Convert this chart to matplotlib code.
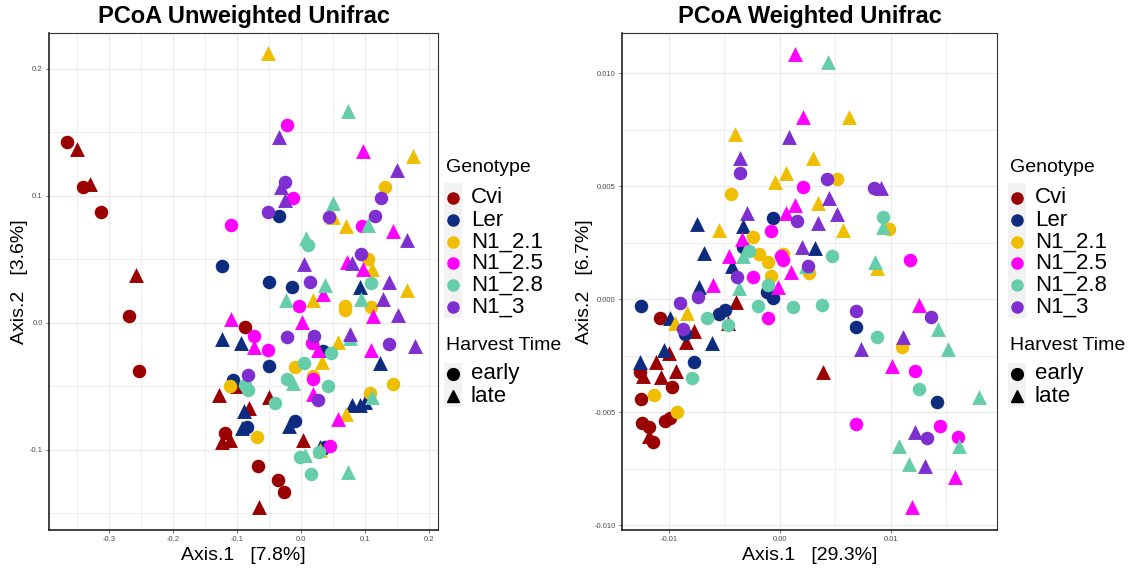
import numpy as np
import matplotlib
matplotlib.use("Agg")
import matplotlib.pyplot as plt
from matplotlib.lines import Line2D
from matplotlib.patches import Rectangle
from matplotlib.ticker import MultipleLocator, FixedLocator

plt.rcParams["font.family"] = ["Liberation Sans", "DejaVu Sans"]
plt.rcParams["axes.unicode_minus"] = False

genotypes = ["Cvi", "Ler", "N1_2.1", "N1_2.5", "N1_2.8", "N1_3"]
colors = ["#9B0000", "#0D2C80", "#F0BE00", "#FF00FF", "#66CDAA", "#7F2FD0"]
harvest = ["early", "late"]

# ---- unweighted unifrac: (Axis.1, Axis.2) per genotype, early = circles, late = triangles
unw_early = {
    "Cvi": [(-0.366, 0.1425), (-0.341, 0.107), (-0.3125, 0.087), (-0.269, 0.005), (-0.253, -0.038),
            (-0.0875, -0.003), (-0.119, -0.087), (-0.067, -0.113), (-0.036, -0.124), (-0.027, -0.133)],
    "Ler": [(-0.034, 0.084), (-0.123, 0.045), (-0.050, 0.032), (-0.014, 0.028), (-0.106, -0.045),
            (-0.050, -0.034), (-0.009, -0.077), (-0.084, -0.082), (0.034, -0.022), (0.0375, -0.098)],
    "N1_2.1": [(0.131, 0.107), (0.105, 0.050), (0.069, 0.013), (0.069, 0.010), (0.109, 0.0126),
               (-0.009, -0.035), (0.019, -0.042), (-0.111, -0.050), (0.108, -0.055), (0.144, -0.048),
               (-0.069, -0.090)],
    "N1_2.5": [(-0.022, 0.156), (-0.0125, 0.098), (-0.109, 0.077), (0.095, 0.076), (-0.003, 0.013),
               (-0.073, -0.010), (-0.052, -0.021), (0.017, -0.016), (0.019, -0.0445), (0.045, -0.097)],
    "N1_2.8": [(0.011, 0.061), (0.109, 0.031), (0.047, -0.024), (0.005, -0.032), (-0.022, -0.0445),
               (-0.0875, -0.049), (-0.083, -0.053), (0.042, -0.050), (-0.041, -0.063), (-0.0016, -0.1055),
               (0.028, -0.102), (0.016, -0.119)],
    "N1_3": [(-0.025, 0.111), (-0.052, 0.087), (0.044, 0.083), (0.125, 0.098), (0.116, 0.084),
             (0.094, 0.054), (0.014, 0.032), (-0.022, -0.011), (0.020, -0.010), (0.1375, -0.0165),
             (-0.083, -0.041), (0.027, -0.061)],
}
unw_late = {
    "Cvi": [(-0.350, 0.137), (-0.330, 0.109), (-0.258, 0.038), (-0.128, -0.057), (-0.100, -0.050),
            (-0.050, -0.058), (-0.081, -0.067), (-0.123, -0.094), (-0.111, -0.092), (0.003, -0.092),
            (-0.066, -0.145)],
    "Ler": [(-0.123, -0.0126), (-0.094, -0.016), (0.092, 0.028), (0.123, -0.032), (0.080, -0.065),
            (0.092, -0.065), (0.100, -0.062), (-0.089, -0.069), (-0.092, -0.083), (-0.019, -0.081),
            (0.030, -0.098)],
    "N1_2.1": [(-0.052, 0.212), (0.175, 0.1315), (0.050, 0.083), (0.070, 0.076), (0.111, 0.042),
               (0.166, 0.026), (0.019, 0.018), (0.058, -0.015), (0.033, -0.031), (0.070, -0.072),
               (0.030, -0.100)],
    "N1_2.5": [(0.097, 0.135), (0.144, 0.072), (0.072, 0.048), (0.097, 0.0425), (0.034, 0.023),
               (-0.109, 0.003), (0.0016, 0.001), (-0.073, -0.019), (0.027, -0.021), (0.019, -0.056),
               (0.109, -0.021), (0.058, -0.076), (0.1125, 0.005)],
    "N1_2.8": [(0.073, 0.167), (0.050, 0.0945), (0.008, 0.067), (0.105, 0.077), (0.0375, 0.030),
               (-0.023, 0.018), (0.094, 0.019), (0.077, -0.012), (-0.0125, -0.047), (0.111, -0.058),
               (0.006, -0.104), (0.073, -0.117)],
    "N1_3": [(-0.034, 0.146), (-0.031, 0.107), (-0.025, 0.097), (0.150, 0.120), (0.166, 0.065),
             (0.080, 0.047), (0.005, 0.046), (0.1375, 0.032), (0.128, 0.019), (0.152, 0.006),
             (0.077, -0.009), (0.178, -0.018)],
}

# ---- weighted unifrac, values in units of 1e-3
w_early = {
    "Cvi": [(-10.81, -0.84), (-12.61, -3.23), (-9.73, -3.89), (-12.52, -4.42), (-12.43, -5.49),
            (-11.80, -5.66), (-11.44, -6.33), (-10.36, -5.40), (-9.91, -5.27)],
    "Ler": [(-0.63, 3.58), (-3.33, 2.32), (-1.17, 0.31), (-0.63, 0.04), (-12.52, -0.31), (-5.50, -0.66),
            (-4.95, -0.49), (-8.56, -1.55), (-7.75, -2.79), (6.85, -1.24), (14.14, -4.56)],
    "N1_2.1": [(-4.41, 4.65), (5.14, 5.31), (9.82, 3.10), (-2.43, 2.74), (-1.89, 1.99), (-1.08, 1.64),
               (0.27, 1.99), (-0.81, 1.02), (2.61, 1.15), (-11.35, -4.25), (-9.28, -5.00), (10.99, -2.12)],
    "N1_2.5": [(2.07, 4.96), (-0.81, 3.01), (0.09, 1.90), (0.27, 1.73), (-2.43, 0.97), (11.71, 1.73),
               (-1.08, -0.84), (12.16, -3.19), (6.85, -5.53), (14.41, -5.62), (16.04, -6.11)],
    "N1_2.8": [(9.28, 3.63), (4.68, 1.90), (-2.79, 2.12), (-1.08, 0.62), (-6.58, -0.84), (-1.98, -0.31),
               (1.17, -0.35), (3.78, -0.27), (-4.68, -1.15), (-7.93, -3.50), (8.74, -1.68), (12.52, -3.98)],
    "N1_3": [(-3.60, 5.58), (4.23, 5.31), (8.47, 4.91), (1.53, 3.45), (2.52, 1.44), (-3.87, 0.97),
             (-9.01, -0.18), (-7.39, 0.11), (-8.74, -1.33), (6.85, -0.53), (13.60, -0.80), (13.24, -6.15)],
}
w_late = {
    "Cvi": [(-3.96, -0.13), (-4.68, -1.06), (-7.75, -1.42), (-8.47, -1.90), (-10.0, -2.39), (-11.17, -2.79),
            (-12.34, -3.41), (-10.72, -3.45), (-9.37, -3.19), (-11.80, -6.06), (3.87, -3.23)],
    "Ler": [(-7.48, 3.32), (-6.85, 2.04), (-3.33, 3.23), (-4.32, 1.44), (3.15, 2.26), (-7.30, 0.53),
            (-9.91, -0.84), (-6.13, -1.95), (-10.45, -2.26), (-12.61, -2.79)],
    "N1_2.1": [(-4.05, 7.30), (-0.45, 5.18), (0.54, 5.58), (2.97, 6.24), (6.22, 8.05), (3.42, 4.25),
               (5.68, 3.05), (-5.50, 3.05), (8.74, 1.37), (-8.38, -0.62), (-9.46, -1.06)],
    "N1_2.5": [(1.35, 10.84), (2.07, 8.05), (1.35, 4.16), (0.54, 3.81), (-3.42, 2.65), (-4.59, 1.90),
               (0.99, 1.19), (-0.18, 0.53), (-6.04, 0.62), (12.52, -0.27), (10.09, -2.96), (15.77, -7.88),
               (11.89, -9.20)],
    "N1_2.8": [(4.32, 10.49), (9.28, 3.19), (8.56, 1.64), (-3.33, 1.90), (2.34, 1.44), (-3.69, 0.49),
               (14.23, -1.33), (15.14, -2.21), (17.93, -4.34), (10.72, -6.50), (16.13, -6.50), (11.62, -7.30)],
    "N1_3": [(0.81, 7.17), (-3.60, 6.24), (4.41, 4.47), (5.14, 3.76), (3.42, 3.36), (-2.97, 3.81),
             (1.98, 2.32), (9.10, 4.91), (11.08, -1.68), (7.30, -2.21), (12.16, -5.88), (13.06, -7.41)],
}

W, H = 1134, 569
fig = plt.figure(figsize=(W / 100, H / 100), dpi=100)


def fx(x):
    return x / W


def fy(y):
    return 1 - y / H


def style_axes(ax, xmaj, xmin, ymaj, ymin, xfmt, yfmt):
    ax.xaxis.set_major_locator(FixedLocator(xmaj))
    ax.yaxis.set_major_locator(FixedLocator(ymaj))
    ax.xaxis.set_minor_locator(MultipleLocator(xmin))
    ax.yaxis.set_minor_locator(MultipleLocator(ymin))
    ax.set_xticklabels([xfmt.format(v) for v in xmaj])
    ax.set_yticklabels([yfmt.format(v) for v in ymaj])
    ax.grid(True, which="major", color="#EBEBEB", lw=1.0, zorder=0)
    ax.grid(True, which="minor", color="#EFEFEF", lw=0.8, zorder=0)
    ax.set_axisbelow(True)
    ax.tick_params(which="major", length=2.5, width=0.6, color="#555555",
                   labelsize=5.5, labelcolor="#4D4D4D", pad=2)
    ax.tick_params(which="minor", length=0)
    for side in ["left", "bottom"]:
        ax.spines[side].set_color("#222222")
        ax.spines[side].set_linewidth(1.2)
    for side in ["top", "right"]:
        ax.spines[side].set_color("#333333")
        ax.spines[side].set_linewidth(0.8)


def draw_points(ax, early, late, scale=1.0):
    for g, c in zip(genotypes, colors):
        e = np.array(early[g]) * scale
        l = np.array(late[g]) * scale
        ax.scatter(e[:, 0], e[:, 1], s=95, marker="o", color=c, lw=0, zorder=3)
        ax.scatter(l[:, 0], l[:, 1], s=115, marker="^", color=c, lw=0, zorder=3)


def draw_legend(x0):
    fig.text(fx(x0), fy(168), "Genotype", fontsize=14, va="center", ha="left")
    fig.add_artist(Rectangle((fx(x0 - 2), fy(318)), fx(18), 135 / H,
                             transform=fig.transFigure, color="#F2F2F2", lw=0))
    ys = [198, 220, 242, 263, 285, 307]
    for g, c, y in zip(genotypes, colors, ys):
        fig.add_artist(Line2D([fx(x0 + 7)], [fy(y)], marker="o", ms=8, color=c, lw=0,
                              transform=fig.transFigure))
        fig.text(fx(x0 + 25), fy(y), g, fontsize=16, va="center", ha="left")
    fig.text(fx(x0), fy(345), "Harvest Time", fontsize=14, va="center", ha="left")
    fig.add_artist(Rectangle((fx(x0 - 2), fy(407)), fx(18), 44 / H,
                             transform=fig.transFigure, color="#F2F2F2", lw=0))
    for lab, m, y in zip(harvest, ["o", "^"], [374, 396]):
        fig.add_artist(Line2D([fx(x0 + 7)], [fy(y)], marker=m, ms=8.5, color="black", lw=0,
                              transform=fig.transFigure))
        fig.text(fx(x0 + 25), fy(y), lab, fontsize=16, va="center", ha="left")


# left panel
ax1 = fig.add_axes([fx(49), fy(530), fx(438 - 49), (530 - 33) / H])
draw_points(ax1, unw_early, unw_late)
ax1.set_xlim(-0.394, 0.214)
ax1.set_ylim(-0.163, 0.228)
style_axes(ax1, [-0.3, -0.2, -0.1, 0.0, 0.1, 0.2], 0.05, [-0.1, 0.0, 0.1, 0.2], 0.05,
           "{:.1f}", "{:.1f}")
ax1.set_title("PCoA Unweighted Unifrac", fontsize=17, fontweight="bold", pad=7)
ax1.set_xlabel("Axis.1   [7.8%]", fontsize=14, labelpad=3)
ax1.set_ylabel("Axis.2   [3.6%]", fontsize=14, labelpad=1)

# right panel
ax2 = fig.add_axes([fx(622), fy(530), fx(997 - 622), (530 - 33) / H])
draw_points(ax2, w_early, w_late, scale=1e-3)
ax2.set_xlim(-0.01423, 0.01955)
ax2.set_ylim(-0.01022, 0.01177)
style_axes(ax2, [-0.01, 0.0, 0.01], 0.005, [-0.01, -0.005, 0.0, 0.005, 0.01], 0.0025,
           "{:.2f}", "{:.3f}")
ax2.set_title("PCoA Weighted Unifrac", fontsize=17, fontweight="bold", pad=7)
ax2.set_xlabel("Axis.1   [29.3%]", fontsize=14, labelpad=3)
ax2.set_ylabel("Axis.2   [6.7%]", fontsize=14, labelpad=1)

draw_legend(446)
draw_legend(1010)

fig.savefig("out.png", dpi=100)
